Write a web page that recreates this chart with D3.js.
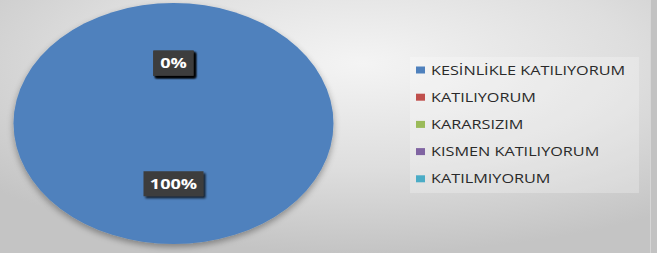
<!DOCTYPE html>
<head>
  <meta charset="utf-8">
  <script src="https://d3js.org/d3.v7.min.js"></script>
  <style>
    body { margin:0; }
    svg { display:block; }
  </style>
</head>
<body>
  <script>
    var width = 657, height = 253;

    var categories = ["KESİNLİKLE KATILIYORUM", "KATILIYORUM", "KARARSIZIM", "KISMEN KATILIYORUM", "KATILMIYORUM"];
    var values = [100, 0, 0, 0, 0];
    var colors = ["#4f81bd", "#c0504d", "#9bbb59", "#8064a2", "#4bacc6"];

    // the whole picture is stretched sideways
    var sx = 1.25;
    var cx = 173.5, cy = 123.5, rx = 160, ry = 120.5;

    var svg = d3.select("body").append("svg")
      .attr("width", width)
      .attr("height", height);

    var defs = svg.append("defs");
    var bg = defs.append("radialGradient").attr("id", "bg")
      .attr("cx", "55%").attr("cy", "25%").attr("r", "75%");
    bg.append("stop").attr("offset", "0%").attr("stop-color", "#f4f4f4");
    bg.append("stop").attr("offset", "55%").attr("stop-color", "#dedede");
    bg.append("stop").attr("offset", "100%").attr("stop-color", "#c4c4c4");

    var sh = defs.append("filter").attr("id", "shadow")
      .attr("x", "-10%").attr("y", "-10%").attr("width", "120%").attr("height", "125%");
    sh.append("feGaussianBlur").attr("in", "SourceAlpha").attr("stdDeviation", 3);
    sh.append("feOffset").attr("dx", 0).attr("dy", 3).attr("result", "b");
    sh.append("feComponentTransfer").append("feFuncA").attr("type", "linear").attr("slope", 0.35);
    var m = sh.append("feMerge");
    m.append("feMergeNode");
    m.append("feMergeNode").attr("in", "SourceGraphic");

    var lsh = defs.append("filter").attr("id", "lshadow")
      .attr("x", "-20%").attr("y", "-20%").attr("width", "150%").attr("height", "160%");
    lsh.append("feGaussianBlur").attr("in", "SourceAlpha").attr("stdDeviation", 1.2);
    lsh.append("feOffset").attr("dx", 2).attr("dy", 2);
    lsh.append("feComponentTransfer").append("feFuncA").attr("type", "linear").attr("slope", 0.8);
    var m2 = lsh.append("feMerge");
    m2.append("feMergeNode");
    m2.append("feMergeNode").attr("in", "SourceGraphic");

    svg.append("rect").attr("width", width).attr("height", height).attr("fill", "url(#bg)");
    // right frame strip
    svg.append("rect").attr("x", 650).attr("y", 0).attr("width", 7).attr("height", height).attr("fill", "#c2c2c2");
    svg.append("line").attr("x1", 650.5).attr("x2", 650.5).attr("y1", 0).attr("y2", height)
      .attr("stroke", "#d6d6d6");

    var data = categories.map(function(c, i) { return { name: c, value: values[i], color: colors[i] }; });

    var pie = d3.pie().sort(null).value(function(d) { return d.value; });
    var arc = d3.arc().innerRadius(0).outerRadius(ry);
    var arcs = pie(data);
    var total = d3.sum(values);

    var g = svg.append("g")
      .attr("transform", "translate(" + cx + "," + cy + ") scale(" + (rx / ry) + ",1)")
      .attr("filter", "url(#shadow)");

    g.selectAll("path").data(arcs).enter().append("path")
      .attr("d", arc)
      .attr("fill", function(d) { return d.data.color; });

    // data labels
    var lab = svg.append("g");
    arcs.slice().reverse().forEach(function(d) {
      var c = arc.centroid(d);
      var x = cx + c[0] * rx / ry, y = cy + c[1];
      var txt = Math.round(d.data.value / total * 100) + "%";
      var w = txt.length > 2 ? 60 : 40;
      var lg = lab.append("g").attr("transform", "translate(" + x + "," + y + ")");
      lg.append("rect").attr("x", -w / 2).attr("y", -12.5).attr("width", w).attr("height", 25)
        .attr("fill", "#3d3d3d").attr("filter", "url(#lshadow)");
      lg.append("text").attr("text-anchor", "middle").attr("dy", "0.36em")
        .attr("transform", "scale(" + sx + ",1)")
        .attr("fill", "#ffffff").attr("font-family", "Open Sans, sans-serif")
        .attr("font-weight", "bold").attr("font-size", "14.5px")
        .text(txt);
    });

    // legend
    var legend = svg.append("g");
    legend.append("rect").attr("x", 410).attr("y", 57).attr("width", 229).attr("height", 136)
      .attr("fill", "#ffffff").attr("fill-opacity", 0.25);

    var li = legend.selectAll("g.item").data(data).enter().append("g")
      .attr("class", "item")
      .attr("transform", function(d, i) { return "translate(416," + (70 + i * 27.2) + ")"; });
    li.append("rect").attr("x", 0).attr("y", -3.5).attr("width", 9).attr("height", 7)
      .attr("fill", function(d) { return d.color; });
    li.append("text").attr("dy", "0.36em")
      .attr("transform", "translate(15,0) scale(" + sx + ",1)")
      .attr("font-family", "Open Sans, sans-serif").attr("font-size", "13px")
      .attr("fill", "#2a2a2a")
      .text(function(d) { return d.name; });
  </script>
</body>
